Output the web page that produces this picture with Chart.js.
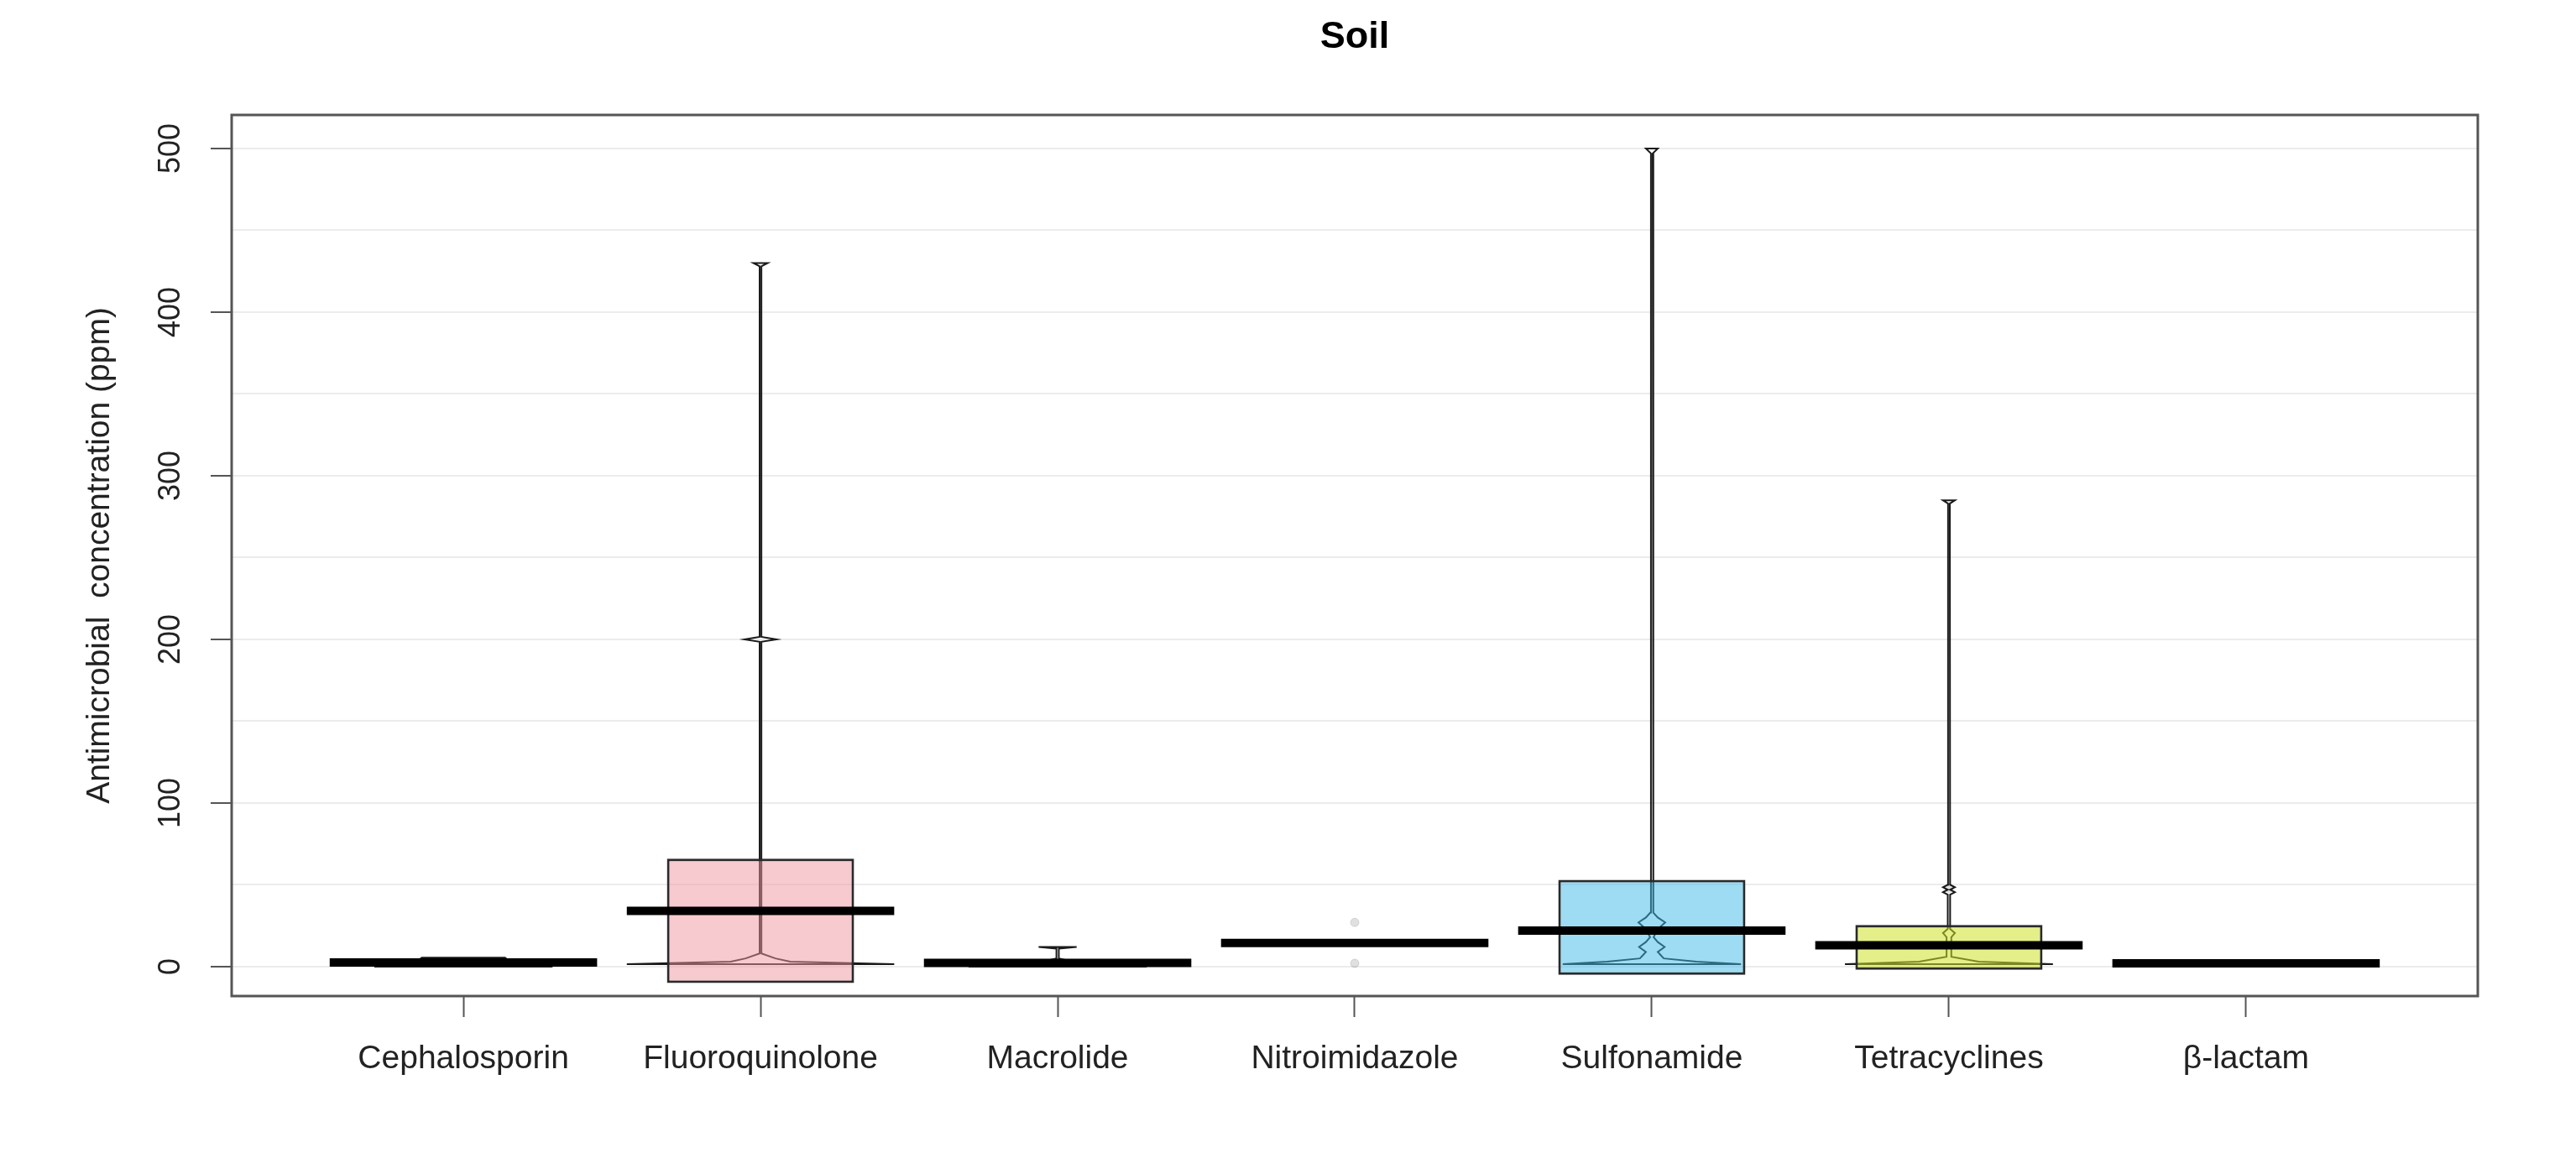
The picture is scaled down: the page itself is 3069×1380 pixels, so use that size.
<!DOCTYPE html>
<html><head><meta charset="utf-8">
<script src="https://cdn.jsdelivr.net/npm/chart.js@4.4.1/dist/chart.umd.min.js"></script>
<style>html,body{margin:0;padding:0;background:#fff}#wrap{width:3069px;height:1380px;position:relative}</style>
</head><body><div id="wrap"><canvas id="c"></canvas></div>
<script>
// ---------- data ----------
const chartTitle = 'Soil';
const categories = ['Cephalosporin','Fluoroquinolone','Macrolide','Nitroimidazole','Sulfonamide','Tetracyclines','β-lactam'];
const means      = [2.5, 34, 2.2, 14.5, 22, 13, 2];
const bandLow    = [0.5, -10, 0, null, -5, -2, null];
const bandHigh   = [4.5, 66, 4, null, 53, 25.5, null];
// bean (density) outline: levels and half widths (in category units)
const beanLevels = [
  [0, 2, 4, 5.5],
  [1.5, 3, 5, 8, 198.5, 200, 201.5, 428, 430],
  [0, 3, 5, 11, 12],
  [],
  [1.5, 3, 5, 7, 9, 12, 15, 18, 23, 27, 30, 33, 497, 500],
  [1.5, 3, 6, 18, 20.5, 23, 44, 45.5, 47, 48.5, 50, 283, 285],
  []
];
const beanHalfWidths = [
  [0.3, 0.2, 0.15, 0.14],
  [0.45, 0.1, 0.05, 0.003, 0.003, 0.054, 0.003, 0.003, 0.024],
  [0.3, 0.05, 0.004, 0.004, 0.064],
  [],
  [0.3, 0.15, 0.04, 0.03, 0.02, 0.043, 0.02, 0.006, 0.02, 0.045, 0.02, 0.005, 0.003, 0.02],
  [0.35, 0.1, 0.008, 0.008, 0.02, 0.004, 0.004, 0.02, 0.004, 0.02, 0.004, 0.003, 0.02],
  []
];
const pointValues = [[], [], [], [27, 2], [], [48], []];
const yTickLabels = [0, 100, 200, 300, 400, 500];
const yGridValues = [0, 50, 100, 150, 200, 250, 300, 350, 400, 450, 500];
const boxColors = ['rgba(120,170,220,0.5)','rgba(240,150,160,0.5)','rgba(150,210,150,0.5)','rgba(200,200,200,0.5)','rgba(60,185,230,0.5)','rgba(205,225,40,0.55)','rgba(200,200,200,0.5)'];

const FONT = "'Liberation Sans', Arial, Helvetica, sans-serif";
const MEAN_HALF = 0.45;

// ---------- datasets ----------
const datasets = [];
categories.forEach((c, i) => {
  const lv = beanLevels[i], hw = beanHalfWidths[i];
  if (!lv.length) return;
  const x0 = i + 1;
  const left = lv.map((v, k) => ({x: x0 - hw[k], y: v}));
  const right = lv.map((v, k) => ({x: x0 + hw[k], y: v})).reverse();
  datasets.push({
    type: 'line', label: 'bean ' + c, data: [...left, ...right, left[0]],
    borderColor: '#1a1a1a', borderWidth: 2, pointRadius: 0, tension: 0, fill: false, order: 4
  });
});
datasets.push({
  type: 'bar', label: 'band',
  data: categories.map((c, i) => bandLow[i] === null ? null : {x: i + 1, y: [bandLow[i], bandHigh[i]]}).filter(d => d),
  backgroundColor: categories.map((c, i) => boxColors[i]).filter((c, i) => bandLow[i] !== null),
  borderColor: '#2a2a2a', borderWidth: 3, borderSkipped: false,
  barPercentage: 0.63, categoryPercentage: 1, grouped: false, order: 3
});
categories.forEach((c, i) => {
  datasets.push({
    type: 'line', label: 'mean ' + c,
    data: [{x: i + 1 - MEAN_HALF, y: means[i]}, {x: i + 1 + MEAN_HALF, y: means[i]}],
    borderColor: '#000', borderWidth: 10, borderCapStyle: 'butt', pointRadius: 0, fill: false, order: 2
  });
});
datasets.push({
  type: 'line', label: 'points', showLine: false,
  data: pointValues.flatMap((arr, i) => arr.map(v => ({x: i + 1, y: v}))),
  pointRadius: 5, pointBackgroundColor: 'rgba(0,0,0,0.12)', pointBorderColor: 'rgba(0,0,0,0.12)', order: 1
});

// ---------- plugins ----------
const framePlugin = {
  id: 'frame',
  afterDraw(chart) {
    const {ctx, chartArea: a} = chart;
    ctx.save();
    ctx.strokeStyle = '#555'; ctx.lineWidth = 3;
    ctx.strokeRect(a.left, a.top, a.right - a.left, a.bottom - a.top);
    // title centred over the plot region
    ctx.fillStyle = '#000';
    ctx.font = 'bold 45px ' + FONT;
    ctx.textAlign = 'center';
    ctx.textBaseline = 'middle';
    ctx.fillText(chartTitle, (a.left + a.right) / 2, 45);
    ctx.restore();
  }
};
const yLabelPlugin = {
  id: 'ylabels',
  afterDraw(chart) {
    const {ctx, chartArea: a} = chart;
    const ys = chart.scales.y;
    ctx.save();
    ctx.fillStyle = '#222';
    ctx.font = '36px ' + FONT;
    ctx.textAlign = 'center';
    ctx.textBaseline = 'alphabetic';
    yTickLabels.forEach(v => {
      const y = ys.getPixelForValue(v);
      ctx.save();
      ctx.translate(a.left - 62, y);
      ctx.rotate(-Math.PI / 2);
      ctx.fillText(String(v), 0, 0);
      ctx.restore();
    });
    ctx.restore();
  }
};

new Chart(document.getElementById('c'), {
  type: 'bar',
  data: {datasets},
  options: {
    responsive: true, maintainAspectRatio: false, animation: false, devicePixelRatio: 1,
    layout: {padding: {left: 0, right: 117, top: 137, bottom: 0}},
    plugins: {
      legend: {display: false}, tooltip: {enabled: false},
      title: {display: false}
    },
    scales: {
      x: {
        type: 'linear', min: 0.22, max: 7.78, offset: false,
        afterBuildTicks: s => { s.ticks = categories.map((c, i) => ({value: i + 1})); },
        afterFit: s => { s.height = 193; },
        ticks: {callback: v => categories[Math.round(v) - 1] ?? '', font: {size: 39, family: FONT}, color: '#222', padding: 27, maxRotation: 0, minRotation: 0, autoSkip: false},
        grid: {drawOnChartArea: false, offset: false, tickLength: 25, tickWidth: 2, tickColor: '#555'},
        border: {display: false}
      },
      y: {
        type: 'linear', min: -18, max: 520.5,
        afterBuildTicks: s => { s.ticks = yGridValues.map(v => ({value: v})); },
        afterFit: s => { s.width = 276; },
        ticks: {display: false},
        grid: {color: '#ececec', lineWidth: 2, tickLength: 25, tickWidth: 2,
               tickColor: c => (c.tick && yTickLabels.includes(c.tick.value)) ? '#555' : 'rgba(0,0,0,0)'},
        border: {display: false},
        title: {display: true, text: 'Antimicrobial  concentration (ppm)', color: '#222', font: {size: 39, family: FONT}, padding: {top: 96, bottom: 0}}
      }
    }
  },
  plugins: [framePlugin, yLabelPlugin]
});
</script></body></html>
